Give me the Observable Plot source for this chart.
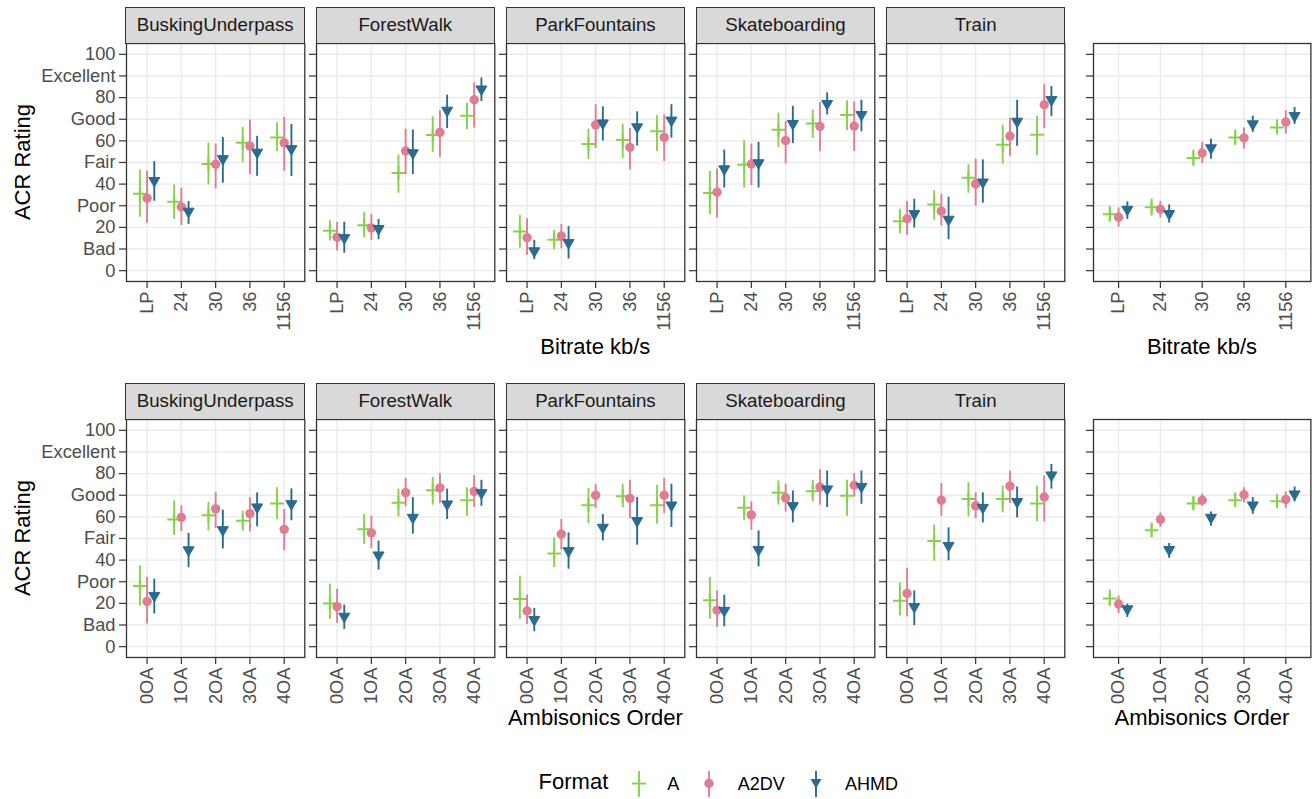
<!DOCTYPE html>
<html><head><meta charset="utf-8">
<script src="https://cdn.jsdelivr.net/npm/d3@7"></script>
<script src="https://cdn.jsdelivr.net/npm/@observablehq/plot@0.6"></script>
<style>
body{margin:0;background:#fff;font-family:"Liberation Sans",Arial,Helvetica,sans-serif;}
#chart{position:relative;width:1312px;height:799px;overflow:hidden;background:#fff;}
.strip{position:absolute;box-sizing:border-box;background:#d9d9d9;border:1.3px solid #333;font-size:18.7px;color:#1a1a1a;display:flex;align-items:center;justify-content:center;}
.title{position:absolute;font-size:22px;line-height:22px;color:#000;white-space:nowrap;}
</style></head><body><div id="chart"></div><script>
// ---------- categories / labels ----------
const formats = ["A", "A2DV", "AHMD"];
const formatColors = ["#86d34a", "#df7d92", "#2b6a91"];
const scenes = ["BuskingUnderpass", "ForestWalk", "ParkFountains", "Skateboarding", "Train"];
const bitrateCats = ["LP", "24", "30", "36", "1156"];
const orderCats = ["0OA", "1OA", "2OA", "3OA", "4OA"];
const yTicks = [0, 10, 20, 30, 40, 50, 60, 70, 80, 90, 100];
const yTickLabels = ["0", "Bad", "20", "Poor", "40", "Fair", "60", "Good", "80", "Excellent", "100"];

// ---------- data: [format, category, mean, low, high] ----------
const brBuskingUnderpass = [
  ["A","LP",35.5,24.7,46.5],["A","24",31.8,23.7,39.6],["A","30",49.3,39.6,59],["A","36",59.1,50.1,66.2],["A","1156",61.6,55.1,68.4],
  ["A2DV","LP",33.5,22,45.9],["A2DV","24",29.5,20.9,38.1],["A2DV","30",49.2,37.8,58.5],["A2DV","36",57.6,44.4,69.6],["A2DV","1156",59.1,45.9,70.8],
  ["AHMD","LP",41.6,32.1,50.4],["AHMD","24",27.4,21.4,32],["AHMD","30",51.7,40.4,61.6],["AHMD","36",54.7,43.6,62.1],["AHMD","1156",56.3,43.5,67.6]
];
const brForestWalk = [
  ["A","LP",18.4,13.7,23.2],["A","24",21,15.2,26.9],["A","30",45.2,35.8,53.5],["A","36",62.7,54.7,71.1],["A","1156",71.6,65.1,77.4],
  ["A2DV","LP",15.5,9.1,22.3],["A2DV","24",19.8,14,26],["A2DV","30",55.3,44.4,65.4],["A2DV","36",63.9,52.4,73.9],["A2DV","1156",79,65.9,86.8],
  ["AHMD","LP",15.2,8.1,22.4],["AHMD","24",19.4,14.3,23.7],["AHMD","30",54.4,44.4,65],["AHMD","36",74.1,65.7,81.1],["AHMD","1156",83.9,78.2,89.1]
];
const brParkFountains = [
  ["A","LP",18.1,10.4,25.5],["A","24",14.3,9.7,18.6],["A","30",58.5,51.3,65.4],["A","36",60.4,51.9,67.7],["A","1156",64.4,55.1,71.6],
  ["A2DV","LP",15.2,7.1,24],["A2DV","24",16,10.1,21.4],["A2DV","30",67.4,56.5,76.7],["A2DV","36",57,46.5,65.7],["A2DV","1156",61.6,50.5,72],
  ["AHMD","LP",9.1,5.1,14],["AHMD","24",12.9,5.4,20.4],["AHMD","30",68.2,59.9,75.7],["AHMD","36",66.4,57.6,73.4],["AHMD","1156",69.5,61.3,76.7]
];
const brSkateboarding = [
  ["A","LP",35.9,25.8,45.9],["A","24",49,38.2,60.1],["A","30",65.1,57,72.8],["A","36",68,61.1,74.3],["A","1156",71.9,64.7,78.5],
  ["A2DV","LP",36.3,24.3,47],["A2DV","24",49.3,39.3,58.5],["A2DV","30",60.1,49.3,69],["A2DV","36",66.7,55,77.7],["A2DV","1156",66.8,55.1,78],
  ["AHMD","LP",47,38.2,55.8],["AHMD","24",49.8,38.2,59.3],["AHMD","30",67.9,58.8,76],["AHMD","36",77.2,72,82.2],["AHMD","1156",72.1,64.2,78.8]
];
const brTrain = [
  ["A","LP",22.9,17,28.4],["A","24",30.6,23.2,37],["A","30",42.9,35.8,49],["A","36",58.2,49.3,67.3],["A","1156",62.8,53.1,71.3],
  ["A2DV","LP",24,16.3,32],["A2DV","24",27.5,20.6,35.2],["A2DV","30",40.1,29.8,51.6],["A2DV","36",62.2,52.8,70.4],["A2DV","1156",76.7,65.7,85.9],
  ["AHMD","LP",26.3,19.7,33],["AHMD","24",23.7,14.3,34],["AHMD","30",40.9,31.2,51.2],["AHMD","36",69,57.5,78.8],["AHMD","1156",79,71.3,85.1]
];
const brOverall = [
  ["A","LP",26.1,22.4,29.8],["A","24",29.3,25.2,33.2],["A","30",52.1,48.1,55.9],["A","36",61.6,57.9,65.1],["A","1156",66.2,62.8,69.6],
  ["A2DV","LP",24.7,20.1,29],["A2DV","24",28.4,24.3,32.1],["A2DV","30",54.4,49.6,59.3],["A2DV","36",61.3,56.2,66],["A2DV","1156",68.7,63.1,73.9],
  ["AHMD","LP",28.3,23.7,31.8],["AHMD","24",26.3,22,30.4],["AHMD","30",56.7,51.5,60.8],["AHMD","36",67.8,63.9,71.4],["AHMD","1156",71.6,67.6,75.4]
];

const aoBuskingUnderpass = [
  ["A","0OA",28,18.8,37.4],["A","1OA",58.8,51.4,67.4],["A","2OA",60.8,53.5,66.6],["A","3OA",58.2,53.4,62.6],["A","4OA",66.2,58.8,73.4],
  ["A2DV","0OA",20.9,10.5,32],["A2DV","1OA",59.7,53.1,65.1],["A2DV","2OA",63.7,54.6,71.2],["A2DV","3OA",61.5,53.1,68.9],["A2DV","4OA",54.2,44.3,63.4],
  ["AHMD","0OA",23.6,15.1,31.2],["AHMD","1OA",44.7,36.5,52.3],["AHMD","2OA",54,45.2,63.1],["AHMD","3OA",64.5,55.4,71.1],["AHMD","4OA",66,58.2,72.9]
];
const aoForestWalk = [
  ["A","0OA",20,12.6,28.9],["A","1OA",54.3,47.2,61.1],["A","2OA",66.5,60,72.8],["A","3OA",72.3,65.4,78.2],["A","4OA",67.7,60.3,73.5],
  ["A2DV","0OA",18.5,10.8,26.5],["A2DV","1OA",52.6,45.4,60.3],["A2DV","2OA",71.2,64.6,77.7],["A2DV","3OA",73.4,66.2,80],["A2DV","4OA",71.8,64.3,79.1],
  ["AHMD","0OA",14,8,19.2],["AHMD","1OA",42.3,35.4,48.8],["AHMD","2OA",59.7,52,68.9],["AHMD","3OA",65.9,58.8,72.8],["AHMD","4OA",71.1,64.9,76.9]
];
const aoParkFountains = [
  ["A","0OA",22,12.6,32.6],["A","1OA",43.1,36.6,50.3],["A","2OA",65.4,56.9,73.1],["A","3OA",69.5,64.2,75.1],["A","4OA",65.4,56.6,74.6],
  ["A2DV","0OA",16.5,10.3,23.8],["A2DV","1OA",52,44.6,58.8],["A2DV","2OA",70,63.8,74.9],["A2DV","3OA",68.5,59.2,76.9],["A2DV","4OA",70,61.5,77.7],
  ["AHMD","0OA",12.5,6.9,17.7],["AHMD","1OA",44.3,35.8,52.6],["AHMD","2OA",55.1,48.9,61.1],["AHMD","3OA",58.2,46.9,68.9],["AHMD","4OA",65.4,55.1,75.1]
];
const aoSkateboarding = [
  ["A","0OA",21.5,12.6,32],["A","1OA",64.2,58.2,69.7],["A","2OA",71.1,65.4,76.6],["A","3OA",71.8,66.9,76.9],["A","4OA",69.7,60.3,76.9],
  ["A2DV","0OA",16.9,8.9,25.8],["A2DV","1OA",60.9,53.8,67],["A2DV","2OA",68.8,62.3,75.1],["A2DV","3OA",73.8,65.4,81.8],["A2DV","4OA",74.6,69.2,80],
  ["AHMD","0OA",16.7,9.2,23.8],["AHMD","1OA",44.8,36.9,53.5],["AHMD","2OA",65.1,57.2,72],["AHMD","3OA",72.8,64.3,81.2],["AHMD","4OA",74,65.8,81.2]
];
const aoTrain = [
  ["A","0OA",21.2,14.2,29.5],["A","1OA",48.8,39.5,56.2],["A","2OA",68.2,60,75.8],["A","3OA",68.2,61.8,74.2],["A","4OA",66.2,57.7,74.2],
  ["A2DV","0OA",24.6,13.8,36.2],["A2DV","1OA",67.7,60.3,75.4],["A2DV","2OA",65.1,59.2,71.1],["A2DV","3OA",74.2,66.2,81.1],["A2DV","4OA",69.2,57.7,78.9],
  ["AHMD","0OA",18.5,9.7,25.8],["AHMD","1OA",46.7,39.7,54.9],["AHMD","2OA",64.3,57.2,71.1],["AHMD","3OA",67,59.5,73.8],["AHMD","4OA",79.3,72.8,84.2]
];
const aoOverall = [
  ["A","0OA",22.3,18.5,26.2],["A","1OA",53.8,50.5,57.2],["A","2OA",66.2,63.1,69.5],["A","3OA",67.7,64.3,71.1],["A","4OA",67.2,63.8,70.5],
  ["A2DV","0OA",19.7,15.4,23.4],["A2DV","1OA",58.8,55.1,61.8],["A2DV","2OA",67.7,64.9,70.5],["A2DV","3OA",70.2,66.5,73.5],["A2DV","4OA",68,63.8,71.5],
  ["AHMD","0OA",17.4,13.5,19.7],["AHMD","1OA",44.8,40.8,47.7],["AHMD","2OA",59.7,55.7,62.3],["AHMD","3OA",65.4,61.2,68.9],["AHMD","4OA",70.5,66.9,73.8]
];

const bitrateRows = [brBuskingUnderpass, brForestWalk, brParkFountains, brSkateboarding, brTrain];
const orderRows = [aoBuskingUnderpass, aoForestWalk, aoParkFountains, aoSkateboarding, aoTrain];

// ---------- layout ----------
const chart = document.getElementById("chart");
const FONT = '"Liberation Sans", Arial, Helvetica, sans-serif';
const panelW = 178.3, panelStep = 190.1, firstLeft = 126;
const sumLeft = 1093.3, sumW = 217.4;
const plotH = 238;
const rowsTop = [43, 419];
const yLabelMap = new Map(yTicks.map((t, i) => [t, yTickLabels[i]]));

function panel(rows, cats, left, top, width, opts) {
  const ML = opts.yLabels ? left : 14;
  const MB = 75;
  const step = width / 5.2;
  const dodge = 0.21 * step;
  const marks = [
    Plot.gridY(yTicks, {stroke: "#ebebeb", strokeOpacity: 1, strokeWidth: 1.4}),
    Plot.gridX(cats, {stroke: "#ebebeb", strokeOpacity: 1, strokeWidth: 1.4}),
    Plot.axisX(cats, {tickRotate: -90, tickSize: 7, tickPadding: 3, fontSize: 18.3, fill: "#4d4d4d", stroke: "#333", strokeWidth: 1.2, label: null}),
    Plot.axisY(yTicks, {tickSize: 7, tickPadding: 4, fontSize: 18.3, fill: "#4d4d4d", stroke: "#333", strokeWidth: 1.2, label: null,
      tickFormat: opts.yLabels ? (d => yLabelMap.get(d)) : (() => "")})
  ];
  formats.forEach((f, k) => {
    const d = rows.filter(r => r[0] === f);
    const dx = (k - 1) * dodge;
    marks.push(Plot.ruleX(d, {x: r => r[1], y1: r => r[3], y2: r => r[4], stroke: r => r[0], strokeWidth: 1.9, dx}));
    if (f === "A") {
      marks.push(Plot.dot(d, {x: r => r[1], y: r => r[2], symbol: "plus", r: 4.5, stroke: r => r[0], fill: "none", strokeWidth: 2, dx}));
    } else if (f === "A2DV") {
      marks.push(Plot.dot(d, {x: r => r[1], y: r => r[2], symbol: "circle", r: 4.7, fill: r => r[0], stroke: "none", dx}));
    } else {
      marks.push(Plot.dot(d, {x: r => r[1], y: r => r[2], symbol: "triangle", r: 4.1, rotate: 180, fill: r => r[0], stroke: r => r[0], strokeWidth: 1, dx}));
    }
  });
  marks.push(Plot.frame({stroke: "#333", strokeWidth: 1.3}));
  const svg = Plot.plot({
    width: ML + width + 3, height: 2 + plotH + MB,
    marginLeft: ML, marginRight: 3, marginTop: 2, marginBottom: MB,
    style: {overflow: "visible", background: "transparent", fontFamily: FONT, fontSize: "18.3px", maxWidth: "none"},
    x: {type: "point", domain: cats, padding: 0.6, round: false, label: null},
    y: {domain: [-5, 105], label: null},
    color: {domain: formats, range: formatColors},
    marks
  });
  svg.style.position = "absolute";
  svg.style.left = (left - ML) + "px";
  svg.style.top = (top - 2) + "px";
  chart.appendChild(svg);
}

function strip(text, left, top, width) {
  const d = document.createElement("div");
  d.className = "strip";
  d.style.left = (left - 0.6) + "px";
  d.style.top = (top - 36) + "px";
  d.style.width = (width + 1.3) + "px";
  d.style.height = "36.6px";
  d.textContent = text;
  chart.appendChild(d);
}

function title(text, cx, baseline, rotate) {
  const d = document.createElement("div");
  d.className = "title";
  d.textContent = text;
  chart.appendChild(d);
  if (rotate) {
    d.style.left = cx + "px";
    d.style.top = baseline + "px";
    d.style.transform = "translate(-50%,-50%) rotate(-90deg)";
  } else {
    d.style.left = cx + "px";
    d.style.top = (baseline - 18.6) + "px";
    d.style.transform = "translateX(-50%)";
  }
}

[[bitrateRows, bitrateCats, brOverall, "Bitrate kb/s", 355], [orderRows, orderCats, aoOverall, "Ambisonics Order", 726]].forEach(([rowsList, cats, overall, xTitle, base], ri) => {
  const top = rowsTop[ri];
  scenes.forEach((s, i) => {
    const left = firstLeft + i * panelStep;
    panel(rowsList[i], cats, left, top, panelW, {yLabels: i === 0});
    strip(s, left, top, panelW);
  });
  panel(overall, cats, sumLeft, top, sumW, {yLabels: false});
  title(xTitle, firstLeft + (4 * panelStep + panelW) / 2, base, false);
  title(xTitle, sumLeft + sumW / 2, base, false);
  title("ACR Rating", 22.5, top + plotH / 2, true);
});

// ---------- legend ----------
function legendText(text, x, baseline, size) {
  const d = document.createElement("div");
  d.className = "title";
  d.style.fontSize = size + "px";
  d.style.lineHeight = size + "px";
  d.style.left = x + "px";
  d.style.top = (baseline - (size * 0.845)) + "px";
  d.textContent = text;
  chart.appendChild(d);
}
legendText("Format", 538.6, 790, 22);
const keyX = [638.7, 709, 816];
const labelX = [667.3, 737.7, 845];
const NS = "http://www.w3.org/2000/svg";
formats.forEach((f, k) => {
  const svg = document.createElementNS(NS, "svg");
  svg.setAttribute("width", 24); svg.setAttribute("height", 30);
  svg.style.position = "absolute";
  svg.style.left = (keyX[k] - 12) + "px";
  svg.style.top = "769px";
  const c = formatColors[k];
  const line = document.createElementNS(NS, "line");
  line.setAttribute("x1", 12); line.setAttribute("x2", 12); line.setAttribute("y1", 2); line.setAttribute("y2", 28);
  line.setAttribute("stroke", c); line.setAttribute("stroke-width", 1.9);
  svg.appendChild(line);
  if (f === "A") {
    const h = document.createElementNS(NS, "line");
    h.setAttribute("x1", 5); h.setAttribute("x2", 19); h.setAttribute("y1", 14.5); h.setAttribute("y2", 14.5);
    h.setAttribute("stroke", c); h.setAttribute("stroke-width", 2);
    svg.appendChild(h);
  } else if (f === "A2DV") {
    const ci = document.createElementNS(NS, "circle");
    ci.setAttribute("cx", 12); ci.setAttribute("cy", 14.5); ci.setAttribute("r", 4.7); ci.setAttribute("fill", c);
    svg.appendChild(ci);
  } else {
    const p = document.createElementNS(NS, "path");
    p.setAttribute("d", "M6.5,10 L17.5,10 L12,19.5 Z"); p.setAttribute("fill", c);
    svg.appendChild(p);
  }
  chart.appendChild(svg);
  legendText(f, labelX[k], 790, 18);
});
</script></body></html>
